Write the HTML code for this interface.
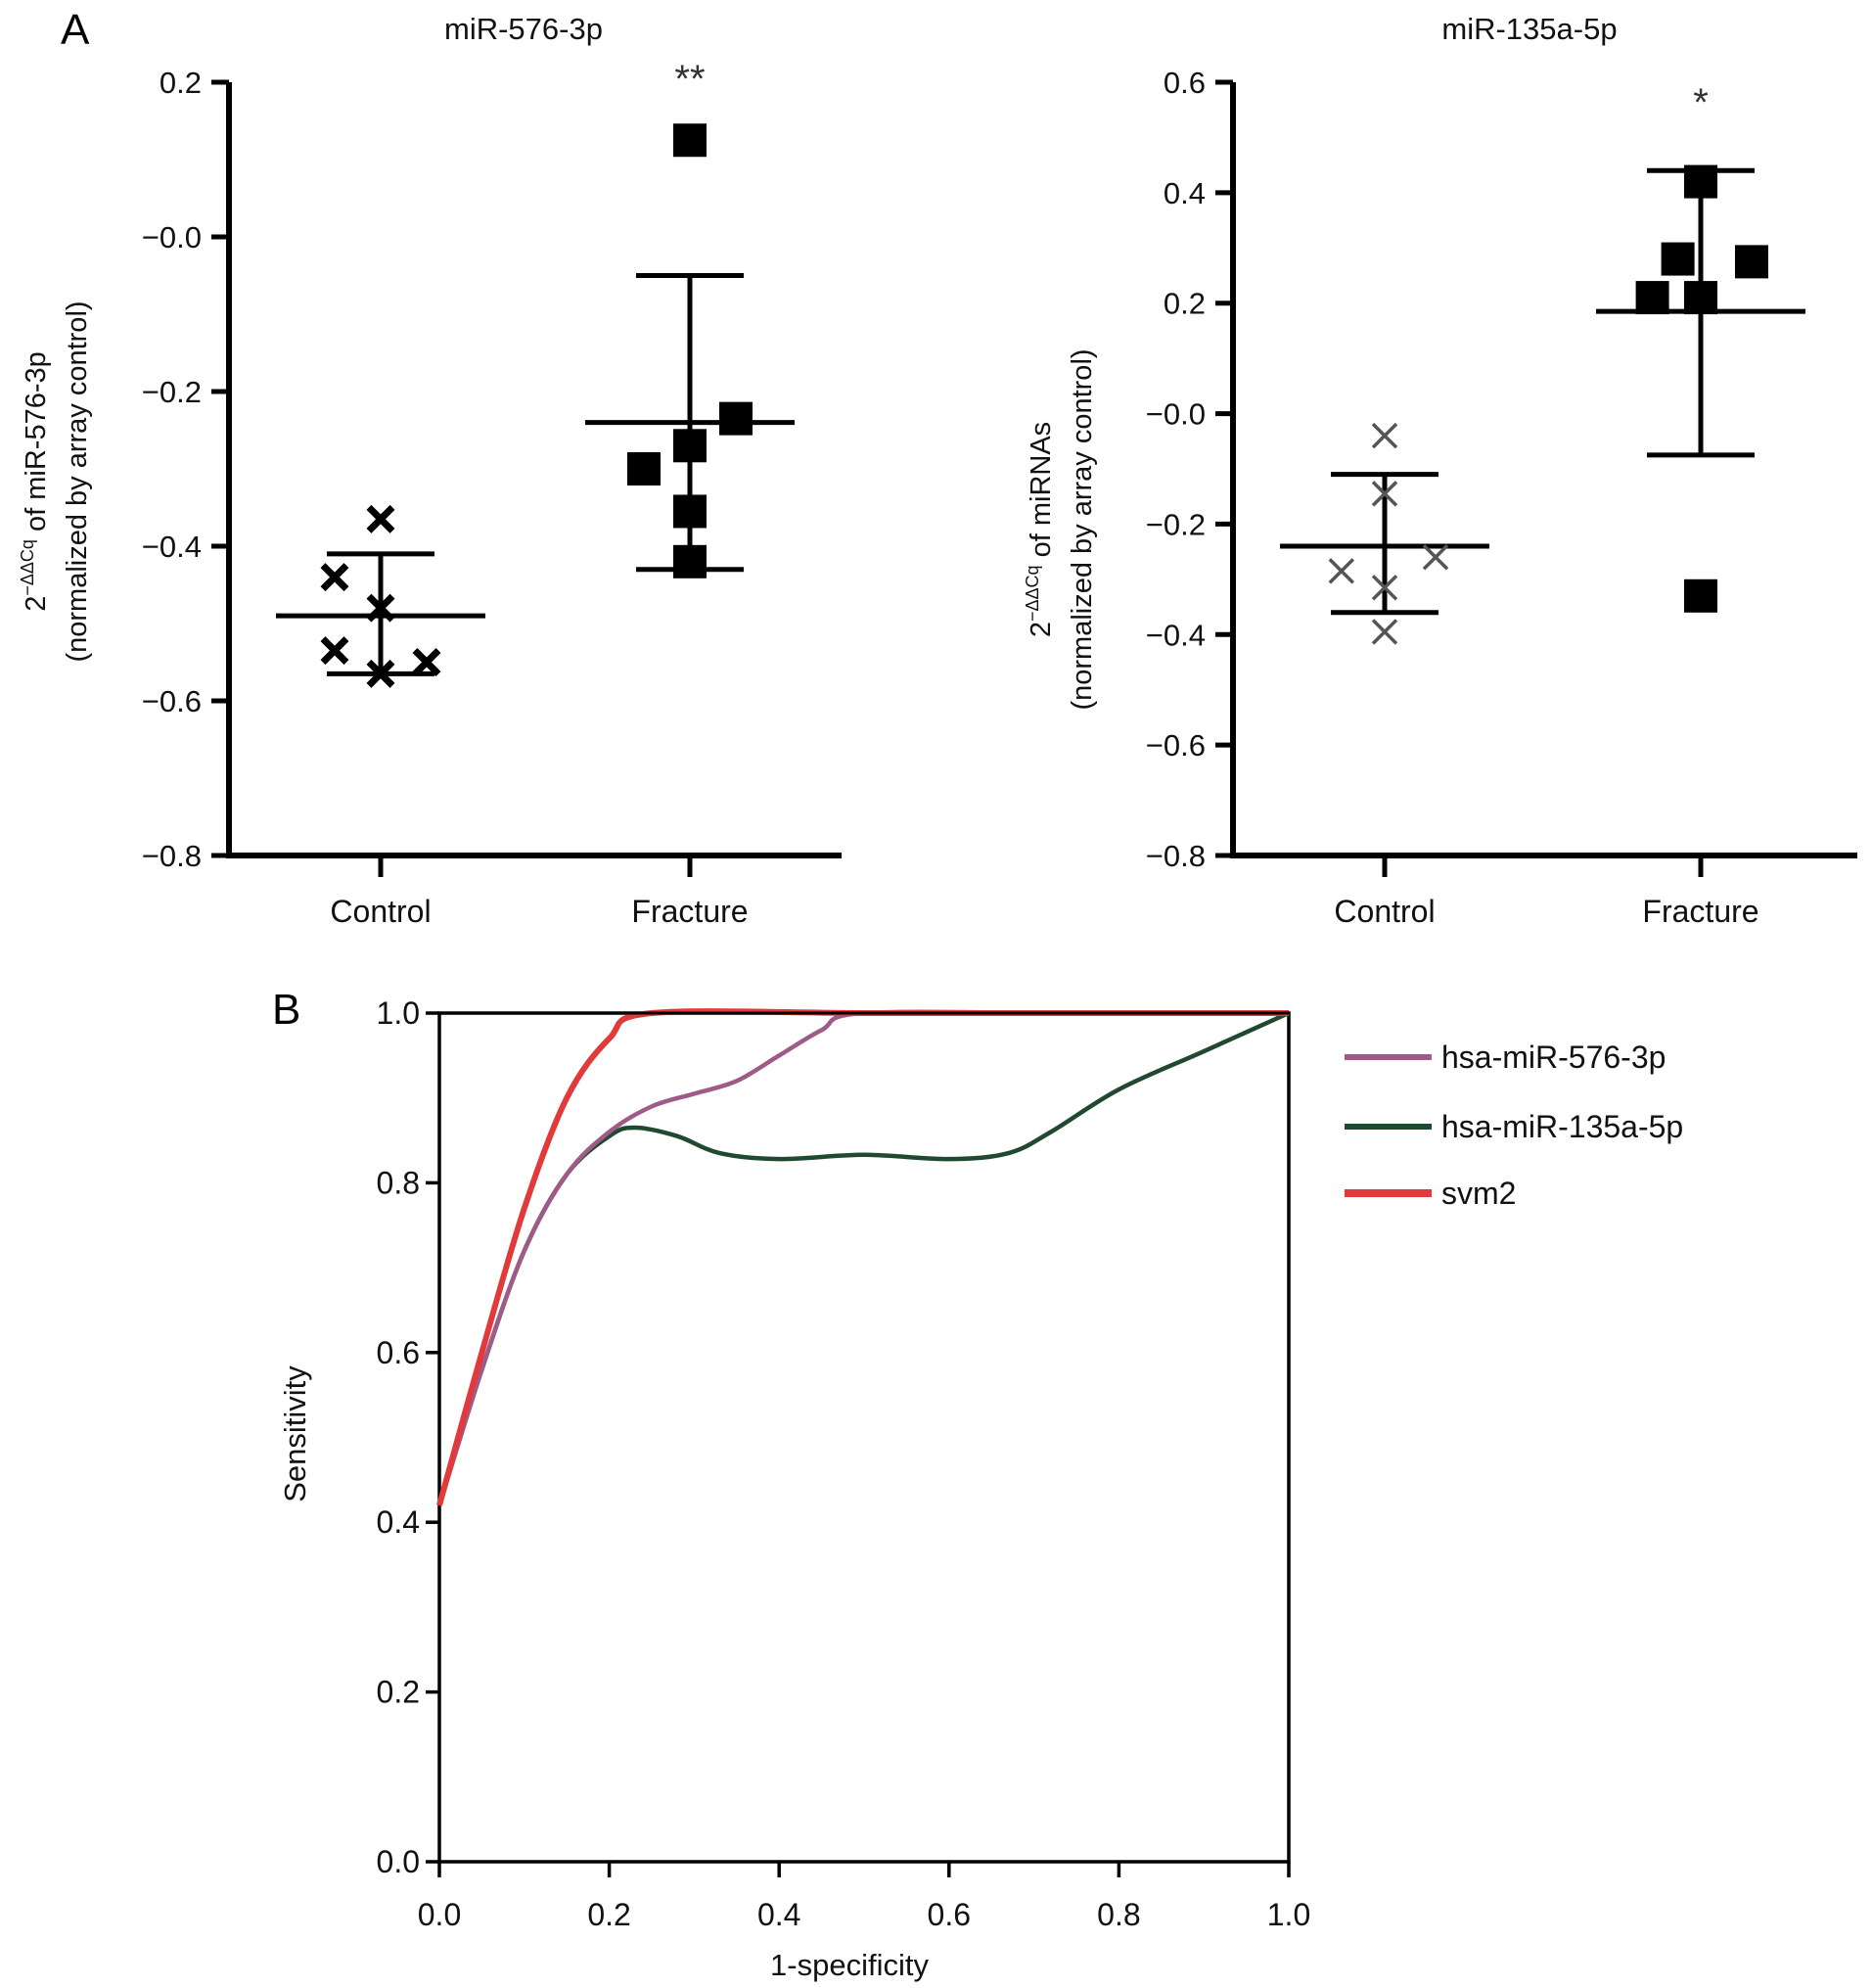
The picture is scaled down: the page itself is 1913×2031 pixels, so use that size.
<!DOCTYPE html>
<html><head><meta charset="utf-8"><style>
html,body{margin:0;padding:0;background:#fff;}
svg{display:block;font-family:"Liberation Sans",Arial,sans-serif;}
</style></head><body>
<svg id="fig" width="1913" height="2031" viewBox="0 0 1913 2031" xmlns="http://www.w3.org/2000/svg"></svg>
<script>
// Panel A left: miR-576-3p
const catsA = ["Control","Fracture"];
const ticksA1 = [0.2,0.0,-0.2,-0.4,-0.6,-0.8];
const tickLabA1 = ["0.2","\u22120.0","\u22120.2","\u22120.4","\u22120.6","\u22120.8"];
const ctrl1 = [-0.365,-0.44,-0.48,-0.535,-0.565,-0.55];
const ctrl1Off = [0,-1,0,-1,0,1];
const frac1 = [0.125,-0.30,-0.27,-0.235,-0.355,-0.42];
const frac1Off = [0,-1,0,1,0,0];
const stats1 = [[-0.49,-0.41,-0.565],[-0.24,-0.05,-0.43]];
// Panel A right: miR-135a-5p
const ticksA2 = [0.6,0.4,0.2,0.0,-0.2,-0.4,-0.6,-0.8];
const tickLabA2 = ["0.6","0.4","0.2","\u22120.0","\u22120.2","\u22120.4","\u22120.6","\u22120.8"];
const ctrl2 = [-0.04,-0.145,-0.26,-0.285,-0.315,-0.395];
const ctrl2Off = [0,0,1,-0.85,0,0];
const frac2 = [0.42,0.28,0.275,0.21,0.21,-0.33];
const frac2Off = [0,-0.45,1,-0.95,0,0];
const stats2 = [[-0.24,-0.11,-0.36],[0.185,0.44,-0.075]];
// Panel B ROC
const rocTicks = [0,0.2,0.4,0.6,0.8,1.0];
const rocTickLab = ["0.0","0.2","0.4","0.6","0.8","1.0"];
const purpleX = [0,0.05,0.1,0.15,0.2,0.25,0.3,0.35,0.4,0.45,0.5,0.75,1];
const purpleY = [0.42,0.58,0.72,0.81,0.86,0.89,0.905,0.92,0.95,0.98,1.0,1.0,1.0];
const greenX = [0,0.05,0.1,0.15,0.2,0.23,0.28,0.33,0.4,0.5,0.6,0.67,0.72,0.8,0.9,1];
const greenY = [0.42,0.58,0.72,0.81,0.855,0.865,0.855,0.835,0.828,0.833,0.828,0.835,0.86,0.91,0.955,1.0];
const redX = [0,0.05,0.1,0.15,0.2,0.25,0.5,0.75,1];
const redY = [0.42,0.6,0.77,0.9,0.97,1.0,1.0,1.0,1.0];

const svg = document.getElementById('fig');
const NS = "http://www.w3.org/2000/svg";
function mk(tag, attrs, parent){ const e=document.createElementNS(NS,tag); for(const k in attrs) e.setAttribute(k,attrs[k]); (parent||svg).appendChild(e); return e; }
function txt(s, attrs, parent){ const e=mk('text',attrs,parent); e.textContent=s; return e; }

function dotPanel(o){
  const g=mk('g',{});
  
  
  const y=v=>o.y0+(o.vmax-v)/(o.vmax-o.vmin)*(o.y1-o.y0);
  const ax=mk('path',{d:`M${o.ax} ${o.y0} V${o.y1} H${o.xend}`,stroke:'#000','stroke-width':6,fill:'none'},g);
   
  o.ticks.forEach((t,i)=>{
    mk('line',{x1:o.ax-18,x2:o.ax,y1:y(t),y2:y(t),stroke:'#000','stroke-width':5},g);
    const l=txt(o.tickLab[i],{x:o.ax-28,y:y(t)+11,'text-anchor':'end','font-size':31,fill:'#111'},g);
     
  });
  o.cx.forEach((cx,i)=>{
    mk('line',{x1:cx,x2:cx,y1:o.y1,y2:o.y1+22,stroke:'#000','stroke-width':5},g);
    const l=txt(catsA[i],{x:cx,y:942,'text-anchor':'middle','font-size':32,fill:'#111'},g);
     
  });
  const t=txt(o.title,{x:o.tx,y:40,'text-anchor':'middle','font-size':31,fill:'#111'},g);
   
  const yl=txt('',{transform:`translate(${o.ylx},${o.yly}) rotate(-90)`,'text-anchor':'middle','font-size':29,fill:'#111'},g);
   
  const s1=mk('tspan',{x:0,dy:0},yl); s1.textContent='2';
  const s2=mk('tspan',{dy:-12,'font-size':18},yl); s2.textContent='−ΔΔCq';
  const s3=mk('tspan',{dy:12},yl); s3.textContent=' of '+o.ylab;
  const s4=mk('tspan',{x:0,dy:42},yl); s4.textContent='(normalized by array control)';
  o.stats.forEach((s,i)=>{
    const cx=o.cx[i];
    mk('line',{x1:cx,x2:cx,y1:y(s[1]),y2:y(s[2]),stroke:'#000','stroke-width':5},g);
    mk('line',{x1:cx-55,x2:cx+55,y1:y(s[1]),y2:y(s[1]),stroke:'#000','stroke-width':5},g);
    mk('line',{x1:cx-55,x2:cx+55,y1:y(s[2]),y2:y(s[2]),stroke:'#000','stroke-width':5},g);
    mk('line',{x1:cx-107,x2:cx+107,y1:y(s[0]),y2:y(s[0]),stroke:'#000','stroke-width':5},g);
  });
  o.ctrl.forEach((v,i)=>{
    const x=o.cx[0]+o.ctrlOff[i]*o.off, yy=y(v), r=12;
    const p=mk('path',{d:`M${x-r} ${yy-r}L${x+r} ${yy+r}M${x-r} ${yy+r}L${x+r} ${yy-r}`,stroke:o.xcol,'stroke-width':o.xw,fill:'none'},g);
     
  });
  o.frac.forEach((v,i)=>{
    const x=o.cx[1]+o.fracOff[i]*o.off, yy=y(v);
    const p=mk('rect',{x:x-17,y:yy-17,width:34,height:34,fill:'#000'},g);
     
  });
  const st=txt(o.star,{x:o.cx[1],y:o.stary,'text-anchor':'middle','font-size':40,fill:'#333'},g);
   
}
dotPanel({name:'panel-a-mir576',ax:234,y0:84,y1:874,xend:860,vmax:0.2,vmin:-0.8,ticks:ticksA1,tickLab:tickLabA1,
  cx:[389,705],tx:535,title:'miR-576-3p',ylx:46,yly:492,ylab:'miR-576-3p',stats:stats1,ctrl:ctrl1,ctrlOff:ctrl1Off,
  frac:frac1,fracOff:frac1Off,off:47,xcol:'#000',xw:7,star:'**',stary:94});
dotPanel({name:'panel-a-mir135',ax:1260,y0:84,y1:874,xend:1898,vmax:0.6,vmin:-0.8,ticks:ticksA2,tickLab:tickLabA2,
  cx:[1415,1738],tx:1563,title:'miR-135a-5p',ylx:1073,yly:541,ylab:'miRNAs',stats:stats2,ctrl:ctrl2,ctrlOff:ctrl2Off,
  frac:frac2,fracOff:frac2Off,off:52,xcol:'#555',xw:3.5,star:'*',stary:118});
const la=txt('A',{x:62,y:45,'font-size':44,fill:'#000'});  
const lb=txt('B',{x:278,y:1046,'font-size':44,fill:'#000'});  

// ROC panel
const X0=449,X1=1317,Y0=1902,Y1=1035;
const sx=v=>X0+v*(X1-X0), sy=v=>Y0-v*(Y0-Y1);
const gb=mk('g',{});  
const frame=mk('rect',{x:X0,y:Y1,width:X1-X0,height:Y0-Y1,fill:'none',stroke:'#000','stroke-width':3.5},gb);
 
rocTicks.forEach((t,i)=>{
  mk('line',{x1:X0-14,x2:X0,y1:sy(t),y2:sy(t),stroke:'#000','stroke-width':3.5},gb);
  const l=txt(rocTickLab[i],{x:X0-20,y:sy(t)+11,'text-anchor':'end','font-size':32,fill:'#111'},gb);
   
  mk('line',{x1:sx(t),x2:sx(t),y1:Y0,y2:Y0+16,stroke:'#000','stroke-width':3.5},gb);
  const m=txt(rocTickLab[i],{x:sx(t),y:1967,'text-anchor':'middle','font-size':32,fill:'#111'},gb);
   
});
const xt=txt('1-specificity',{x:868,y:2018,'text-anchor':'middle','font-size':31,fill:'#111'},gb);
 
const yt=txt('Sensitivity',{transform:'translate(312,1465) rotate(-90)','text-anchor':'middle','font-size':31,fill:'#111'},gb);
 
function smooth(xs,ys){
  const p=xs.map((x,i)=>[sx(x),sy(ys[i])]);
  let d=`M${p[0][0]} ${p[0][1]}`;
  for(let i=0;i<p.length-1;i++){
    const a=p[Math.max(0,i-1)],b=p[i],c=p[i+1],e=p[Math.min(p.length-1,i+2)];
    const c1=[b[0]+(c[0]-a[0])/6,b[1]+(c[1]-a[1])/6], c2=[c[0]-(e[0]-b[0])/6,c[1]-(e[1]-b[1])/6];
    d+=`C${c1[0]} ${c1[1]} ${c2[0]} ${c2[1]} ${c[0]} ${c[1]}`;
  }
  return d;
}
const series=[['green-curve',greenX,greenY,'#1f4a30',4.5],['purple-curve',purpleX,purpleY,'#a05a88',4.5],['red-curve',redX,redY,'#e23a3a',6]];
series.forEach(s=>{
  const p=mk('path',{d:smooth(s[1],s[2]),stroke:s[3],'stroke-width':s[4],fill:'none'},gb);
  
  
});
mk('line',{x1:X0,x2:X1,y1:Y1,y2:Y1,stroke:'#000','stroke-width':3},gb);
const legItems=[['hsa-miR-576-3p','#a05a88',1080],['hsa-miR-135a-5p','#1f4a30',1151],['svm2','#e23a3a',1219]];
legItems.forEach(l=>{
  const g=mk('g',{},gb);
  
  
  mk('line',{x1:1374,x2:1463,y1:l[2],y2:l[2],stroke:l[1],'stroke-width':l[0]==='svm2'?8:6},g);
  txt(l[0],{x:1473,y:l[2]+11,'font-size':32,fill:'#111'},g);
});
</script>
</body></html>
